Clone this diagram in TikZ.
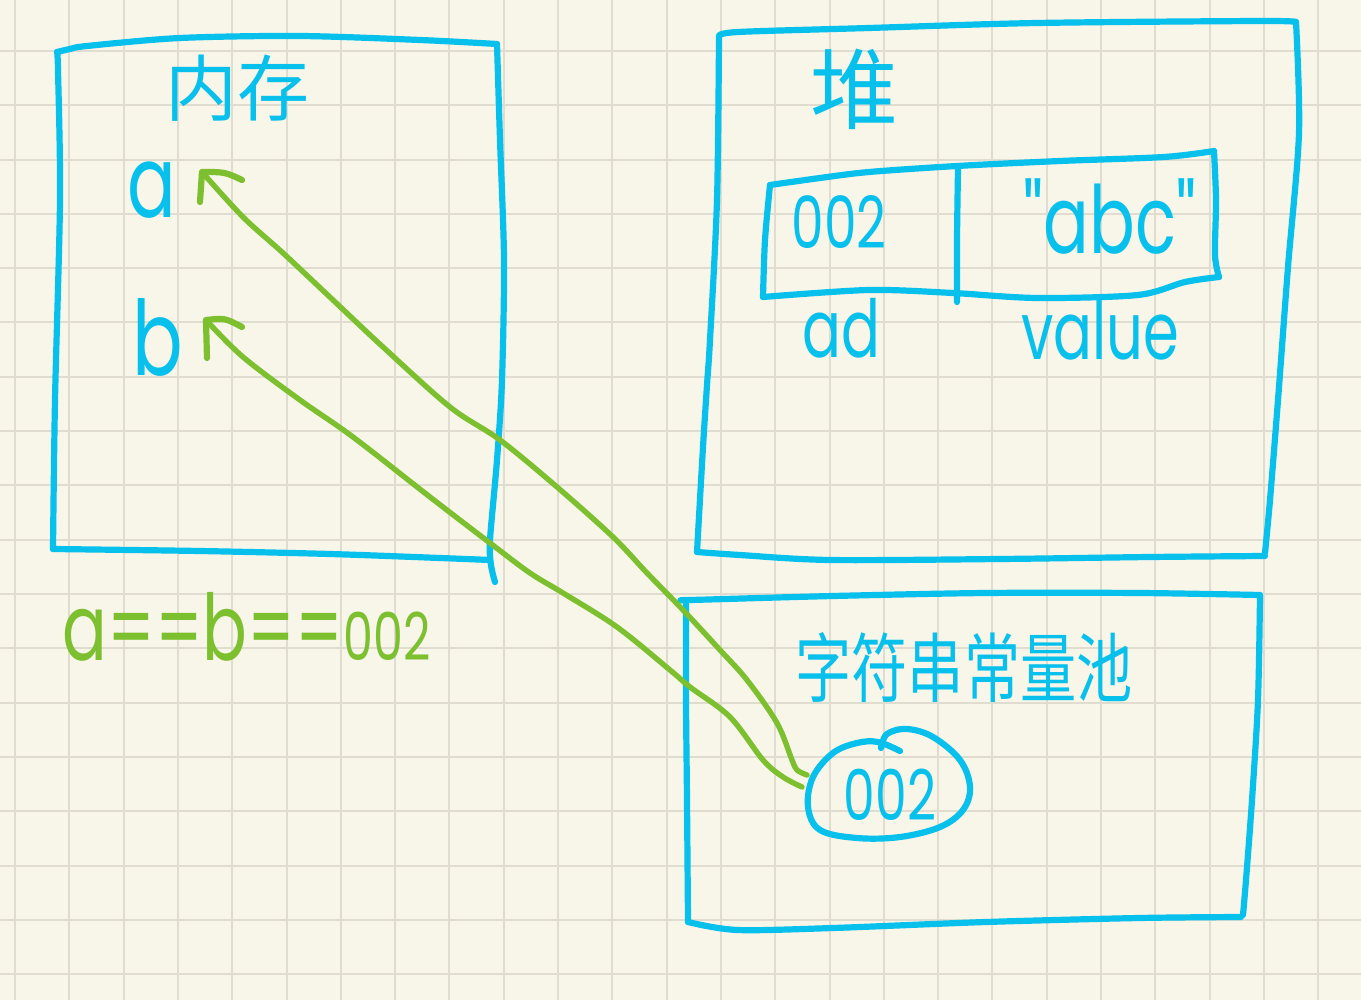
\documentclass[tikz,border=0pt]{standalone}
\usepackage{fontspec}
\newfontfamily\cjk{Noto Sans CJK SC}
\newfontfamily\hand[FakeStretch=0.72]{Poppins}
\definecolor{paper}{RGB}{248,245,233}
\definecolor{gridc}{RGB}{224,220,207}
\definecolor{ink}{RGB}{8,192,236}
\definecolor{leaf}{RGB}{124,192,48}
\begin{document}
\begin{tikzpicture}[x=0.5pt,y=-0.5pt,
  pen/.style={draw=ink,line width=3.1pt,line cap=round,line join=round},
  gpen/.style={draw=leaf,line width=2.7pt,line cap=round,line join=round},
  lbl/.style={inner sep=0pt,text=ink},
  glbl/.style={inner sep=0pt,text=leaf},
  sm/.style={smooth,tension=0.5}]
\useasboundingbox (0,0) rectangle (1361,1000);
\fill[paper] (0,0) rectangle (1361,1000);
\foreach \i in {0,...,25} \draw[gridc,line width=1pt] ({15+54.3*\i},0) -- ({15+54.3*\i},1000);
\foreach \j in {1,...,18} \draw[gridc,line width=1pt] (0,{-3.3+54.3*\j}) -- (1361,{-3.3+54.3*\j});

% memory box
\draw[pen] plot[sm] coordinates {(57,52) (70,49) (87,46) (180,38) (300,36) (420,40) (497,44)};
\draw[pen] plot[sm] coordinates {(497,44) (500,140) (504,260) (502,380) (497,460) (490,540) (491,565) (495,582)};
\draw[pen] plot[sm] coordinates {(490,560) (440,558) (330,554) (200,551) (53,549)};
\draw[pen] plot[sm] coordinates {(53,549) (55,400) (60,200) (58,70) (57,52)};

% heap box
\draw[pen] plot[sm] coordinates {(719,36) (738,32) (869,28) (1037,23) (1261,21) (1296,22)};
\draw[pen] plot[sm] coordinates {(1296,22) (1299,133) (1288,267) (1278,400) (1270,500) (1265,553)};
\draw[pen] plot[sm] coordinates {(1265,556) (1150,557) (1000,559) (830,560) (740,555) (697,552)};
\draw[pen] plot[sm] coordinates {(697,552) (703,447) (707,385) (710,340) (717,200) (719,36)};

% inner table
\draw[pen] plot[sm] coordinates {(770,185) (820,178) (869,172) (957,166) (1060,161) (1164,157) (1214,151)};
\draw[pen] plot[sm] coordinates {(1214,151) (1216,200) (1215,255) (1219,277)};
\draw[pen] plot[sm] coordinates {(1219,277) (1185,282) (1138,295) (1037,298) (953,293) (869,290) (763,297)};
\draw[pen] plot[sm] coordinates {(763,297) (765,240) (770,185)};
\draw[pen] plot[sm] coordinates {(958,168) (957,240) (957,302)};

% string pool box
\draw[pen] plot[sm] coordinates {(686,600) (691,600) (833,596) (986,593) (1139,593) (1260,595)};
\draw[pen] plot[sm] coordinates {(1260,595) (1258,700) (1252,800) (1246,880) (1243,915)};
\draw[pen] plot[sm] coordinates {(1241,917) (1139,918) (986,922) (833,928) (737,930) (688,922)};
\draw[pen] plot[sm] coordinates {(688,922) (687,800) (686,700) (686,600)};

% ellipse around 002
\draw[pen] plot[smooth,tension=0.6] coordinates {(881,748) (887,734) (907,729) (933,737) (960,760) (970,787) (963,810) (940,827) (900,837) (857,838) (820,830) (808,807) (813,777) (833,753) (857,743) (878,742) (900,751)};

% labels
\node[lbl,font=\cjk\fontsize{36}{36}\selectfont] (memT) at (237,88) {内存};
\node[lbl,font=\hand\fontsize{50}{50}\selectfont] (va) at (152,190) {a};
\node[lbl,font=\hand\fontsize{52}{52}\selectfont] (vb) at (158,337) {b};
\node[lbl,font=\cjk\fontsize{44}{44}\selectfont] (heapT) at (854,89) {堆};
\node[lbl,font=\hand\fontsize{36}{36}\selectfont] (adr) at (839,222) {002};
\node[lbl,font=\hand\fontsize{47}{47}\selectfont] (val) at (1110,217) {"abc"};
\node[lbl,font=\hand\fontsize{40}{40}\selectfont] (adL) at (841,328) {ad};
\node[lbl,font=\hand\fontsize{40}{40}\selectfont] (valL) at (1100,330) {value};
\node[lbl,font=\cjk\fontsize{36}{36}\selectfont] (poolT) at (964,668) {\scalebox{0.78}[1.05]{字符串常量池}};
\node[lbl,font=\hand\fontsize{35}{35}\selectfont] (p002) at (890,795) {002};
\node[glbl,font=\hand\fontsize{46}{46}\selectfont,anchor=base west] (eq) at (62,660) {a==b==\fontsize{33}{33}\selectfont 002};

% green pointers
\coordinate (aEnd) at (807,775);
\coordinate (aTip) at (202,172);
\coordinate (bEnd) at (802,787);
\coordinate (bTip) at (206,320);
\draw[gpen] plot[smooth,tension=0.55] coordinates {(aEnd) (797,770) (792,760) (777,723) (747,680) (720,650) (683,610) (647,573) (613,537) (557,487) (500,440) (450,407) (383,347) (333,300) (283,253) (243,217) (aTip)};
\draw[gpen] plot[smooth,tension=0.55] coordinates {(bEnd) (783,777) (763,760) (730,717) (690,687) (670,670) (617,627) (563,593) (530,573) (490,543) (430,497) (353,437) (300,400) (243,357) (bTip)};
\draw[gpen,line width=3.1pt] (242,180) .. controls (225,172) .. (aTip) -- (200,202);
\draw[gpen,line width=3.1pt] (242,327) .. controls (225,318) .. (bTip) -- (207,358);
\end{tikzpicture}
\end{document}
